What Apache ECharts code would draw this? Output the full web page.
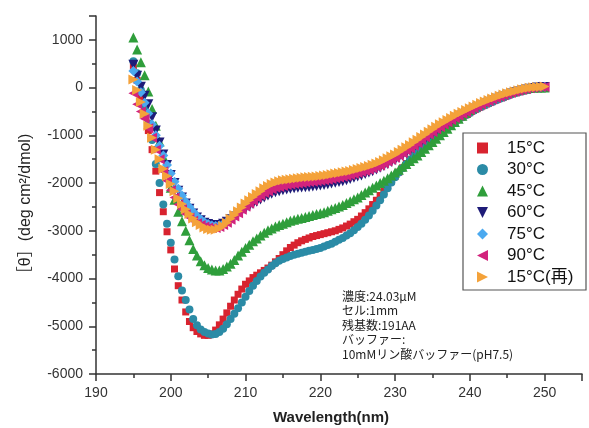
<!DOCTYPE html>
<html>
<head>
<meta charset="utf-8">
<script src="https://cdn.jsdelivr.net/npm/echarts@6/dist/echarts.min.js"></script>
<style>
  html, body { margin: 0; padding: 0; background: #fff; }
  #main { width: 589px; height: 428px; }
</style>
</head>
<body>
<div id="main"></div>
<script>
// 測定波長 195〜250nm (0.5nm刻み)
var wavelength = [];
for (var w = 195; w <= 250; w += 0.5) wavelength.push(w);

var seriesNames = ['15°C', '30°C', '45°C', '60°C', '75°C', '90°C', '15°C(再)'];

// [θ] の値 (deg cm2/dmol)
var t15 = [450, 150, -200, -550, -900, -1300, -1750, -2200, -2600, -3020,
  -3400, -3800, -4150, -4450, -4700, -4900, -5030, -5110, -5160, -5190,
  -5190, -5160, -5080, -4970, -4850, -4720, -4580, -4450, -4330, -4220,
  -4120, -4050, -3980, -3930, -3880, -3830, -3780, -3720, -3650, -3580,
  -3500, -3420, -3350, -3300, -3250, -3210, -3180, -3150, -3120, -3100,
  -3080, -3060, -3040, -3020, -3000, -2970, -2940, -2900, -2860, -2810,
  -2760, -2690, -2620, -2540, -2450, -2360, -2260, -2160, -2060, -1960,
  -1860, -1770, -1680, -1590, -1500, -1420, -1340, -1260, -1190, -1120,
  -1050, -980, -920, -860, -810, -760, -710, -660, -615, -570,
  -525, -480, -440, -400, -365, -330, -295, -260, -230, -200,
  -170, -140, -115, -90, -70, -50, -35, -20, -10, 0,
  5];
var t30 = [550, 300, -50, -400, -750, -1100, -1600, -2000, -2450, -2850,
  -3250, -3600, -3950, -4250, -4450, -4650, -4850, -4980, -5070, -5120,
  -5150, -5170, -5160, -5120, -5050, -4960, -4850, -4740, -4620, -4500,
  -4380, -4260, -4150, -4050, -3960, -3880, -3810, -3740, -3680, -3630,
  -3590, -3560, -3530, -3500, -3480, -3460, -3440, -3420, -3400, -3380,
  -3360, -3330, -3300, -3270, -3230, -3190, -3150, -3100, -3050, -2990,
  -2920, -2850, -2770, -2680, -2580, -2470, -2360, -2240, -2110, -1990,
  -1880, -1780, -1690, -1600, -1510, -1430, -1350, -1280, -1210, -1140,
  -1070, -1000, -940, -880, -825, -770, -720, -670, -620, -575,
  -530, -485, -445, -405, -370, -335, -300, -265, -235, -205,
  -175, -145, -120, -95, -75, -55, -40, -25, -10, 0,
  5];
var t45 = [1050, 800, 530, 260, -80, -450, -800, -1130, -1450, -1780,
  -2100, -2350, -2600, -2800, -3000, -3200, -3380, -3520, -3640, -3720,
  -3780, -3810, -3830, -3830, -3800, -3750, -3690, -3610, -3520, -3440,
  -3360, -3290, -3220, -3160, -3100, -3040, -2990, -2950, -2910, -2880,
  -2850, -2820, -2790, -2770, -2750, -2730, -2710, -2690, -2670, -2650,
  -2630, -2610, -2580, -2550, -2520, -2490, -2460, -2420, -2380, -2340,
  -2300, -2250, -2200, -2150, -2100, -2050, -2000, -1950, -1900, -1840,
  -1780, -1720, -1660, -1600, -1540, -1480, -1420, -1350, -1280, -1210,
  -1140, -1070, -1000, -930, -860, -790, -720, -650, -590, -530,
  -470, -420, -375, -335, -295, -260, -225, -195, -165, -140,
  -115, -90, -70, -50, -35, -20, -10, 0, 0, 0,
  0];
var t60 = [480, 250, 20, -170, -350, -620, -900, -1150, -1400, -1620,
  -1830, -2000, -2160, -2300, -2430, -2540, -2640, -2720, -2780, -2830,
  -2860, -2880, -2890, -2880, -2850, -2810, -2760, -2700, -2640, -2590,
  -2540, -2490, -2440, -2390, -2345, -2300, -2260, -2225, -2195, -2170,
  -2150, -2135, -2120, -2110, -2100, -2095, -2090, -2080, -2070, -2060,
  -2050, -2040, -2025, -2010, -1995, -1980, -1960, -1940, -1915, -1890,
  -1865, -1840, -1810, -1780, -1750, -1715, -1680, -1640, -1600, -1560,
  -1520, -1470, -1420, -1370, -1320, -1265, -1210, -1150, -1090, -1030,
  -975, -920, -865, -815, -765, -715, -665, -620, -575, -530,
  -490, -450, -410, -370, -335, -300, -265, -235, -205, -175,
  -150, -125, -100, -80, -60, -40, -25, -10, 0, 10,
  15];
var t75 = [350, 130, -100, -320, -540, -770, -1000, -1220, -1420, -1620,
  -1800, -1970, -2120, -2260, -2390, -2500, -2600, -2690, -2760, -2820,
  -2860, -2890, -2900, -2890, -2860, -2810, -2740, -2670, -2600, -2530,
  -2460, -2400, -2340, -2280, -2230, -2180, -2140, -2100, -2070, -2050,
  -2030, -2010, -2000, -1990, -1980, -1970, -1960, -1950, -1940, -1930,
  -1920, -1910, -1900, -1885, -1870, -1855, -1840, -1820, -1800, -1780,
  -1760, -1740, -1715, -1690, -1660, -1630, -1600, -1560, -1520, -1480,
  -1440, -1390, -1340, -1290, -1240, -1190, -1130, -1070, -1010, -955,
  -900, -850, -800, -750, -700, -655, -610, -570, -530, -490,
  -450, -410, -375, -340, -305, -270, -240, -210, -180, -150,
  -125, -100, -80, -60, -40, -25, -10, 0, 10, 15,
  20];
var t90 = [-120, -350, -500, -650, -850, -1050, -1300, -1500, -1750, -1950,
  -2150, -2300, -2450, -2550, -2650, -2720, -2790, -2840, -2880, -2910,
  -2930, -2940, -2940, -2920, -2880, -2830, -2770, -2700, -2630, -2560,
  -2490, -2430, -2370, -2310, -2260, -2210, -2170, -2130, -2100, -2080,
  -2060, -2040, -2030, -2020, -2010, -2000, -1990, -1980, -1970, -1960,
  -1950, -1940, -1930, -1915, -1900, -1885, -1870, -1850, -1830, -1810,
  -1790, -1770, -1745, -1720, -1690, -1660, -1630, -1590, -1550, -1510,
  -1470, -1420, -1370, -1320, -1270, -1220, -1160, -1100, -1040, -985,
  -930, -875, -825, -775, -725, -680, -635, -590, -550, -510,
  -470, -430, -390, -355, -320, -285, -250, -220, -190, -160,
  -135, -110, -85, -65, -45, -30, -15, -5, 5, 10,
  15];
var t15re = [170, -50, -300, -550, -800, -1050, -1300, -1500, -1700, -1850,
  -2020, -2170, -2320, -2440, -2550, -2650, -2740, -2820, -2880, -2930,
  -2960, -2980, -2980, -2950, -2900, -2830, -2750, -2670, -2590, -2510,
  -2430, -2360, -2290, -2230, -2170, -2110, -2060, -2020, -1990, -1960,
  -1940, -1930, -1920, -1910, -1900, -1890, -1880, -1875, -1870, -1860,
  -1850, -1840, -1830, -1815, -1800, -1790, -1775, -1760, -1745, -1725,
  -1705, -1685, -1665, -1640, -1615, -1590, -1560, -1520, -1480, -1440,
  -1400, -1350, -1300, -1250, -1200, -1145, -1090, -1035, -980, -925,
  -870, -820, -770, -725, -680, -635, -590, -550, -510, -470,
  -430, -395, -360, -325, -290, -260, -230, -200, -170, -145,
  -120, -95, -75, -55, -35, -20, -5, 5, 15, 20,
  25];

// 測定条件
var noteLines = ['濃度:24.03μM', 'セル:1mm', '残基数:191AA', 'バッファー:', '10mMリン酸バッファー(pH7.5)'];

var seriesValues = [t15, t30, t45, t60, t75, t90, t15re];
// legendIcon: 凡例では回転が効かないので向き付きの三角はpathで描く
var seriesStyle = [
  { symbol: 'rect', size: 7, rotate: 0, color: '#d8232f', legendIcon: 'rect' },
  { symbol: 'circle', size: 8, rotate: 0, color: '#2b8ba6', legendIcon: 'circle' },
  { symbol: 'triangle', size: 10, rotate: 0, color: '#2f9e3b', legendIcon: 'triangle' },
  { symbol: 'triangle', size: 10, rotate: 180, color: '#1e1b78', legendIcon: 'path://M0,0L10,0L5,10Z' },
  { symbol: 'diamond', size: 10, rotate: 0, color: '#4ba9ef', legendIcon: 'diamond' },
  { symbol: 'triangle', size: 10, rotate: 90, color: '#d2237d', legendIcon: 'path://M10,0L10,10L0,5Z' },
  { symbol: 'triangle', size: 10, rotate: -90, color: '#f4a23a', legendIcon: 'path://M0,0L10,5L0,10Z' }
];

function toPoints(values) {
  return values.map(function (v, i) {
    return [wavelength[i], v];
  });
}

var series = seriesValues.map(function (values, k) {
  var s = seriesStyle[k];
  return {
    name: seriesNames[k],
    type: 'scatter',
    symbol: s.symbol,
    symbolSize: s.size,
    symbolRotate: s.rotate,
    itemStyle: { color: s.color, opacity: 1 },
    emphasis: { disabled: true },
    data: toPoints(values)
  };
});

var legendData = seriesNames.map(function (name, k) {
  return { name: name, icon: seriesStyle[k].legendIcon };
});

var axisColor = '#333';
var labelFont = 'Liberation Sans, Arial, sans-serif';

var option = {
  animation: false,
  backgroundColor: '#fff',
  grid: { left: 96, right: 7, top: 16, bottom: 54 },
  legend: {
    orient: 'vertical',
    left: 477,
    top: 138,
    padding: 0,
    itemWidth: 11,
    itemHeight: 11,
    itemGap: 1.5,
    selectedMode: false,
    formatter: function (name) {
      return '{a|' + name + '}';
    },
    textStyle: {
      fontSize: 17,
      lineHeight: 20,
      color: '#111',
      fontFamily: 'Liberation Sans, "Noto Sans CJK JP", sans-serif',
      rich: {
        a: {
          fontSize: 17,
          lineHeight: 20,
          padding: [0, 0, 0, 14]
        }
      }
    },
    data: legendData
  },
  xAxis: {
    type: 'value',
    min: 190,
    max: 255,
    interval: 10,
    splitLine: { show: false },
    axisLine: { onZero: false, lineStyle: { color: axisColor, width: 1.5 } },
    axisTick: { length: 7, lineStyle: { color: axisColor, width: 1.5 } },
    minorTick: { show: true, splitNumber: 2, length: 4, lineStyle: { color: axisColor, width: 1.5 } },
    axisLabel: { showMaxLabel: false, margin: 12, fontSize: 14, color: '#333', fontFamily: labelFont }
  },
  yAxis: {
    type: 'value',
    min: -6000,
    max: 1500,
    interval: 1000,
    splitLine: { show: false },
    axisLine: { show: true, onZero: false, lineStyle: { color: axisColor, width: 1.5 } },
    axisTick: { show: true, length: 7, lineStyle: { color: axisColor, width: 1.5 } },
    minorTick: { show: true, splitNumber: 2, length: 4, lineStyle: { color: axisColor, width: 1.5 } },
    axisLabel: {
      showMaxLabel: false,
      margin: 13,
      fontSize: 14,
      color: '#333',
      fontFamily: labelFont,
      formatter: function (v) { return String(v); }
    }
  },
  graphic: [
    {
      // 凡例の枠
      type: 'rect',
      z: 0,
      shape: { x: 463, y: 133, width: 123, height: 157 },
      style: { fill: 'none', stroke: '#555', lineWidth: 1.2 }
    },
    {
      type: 'text',
      left: 342,
      top: 289,
      style: {
        text: noteLines.join('\n'),
        font: '12px "Noto Sans CJK JP", sans-serif',
        lineHeight: 14.5,
        fill: '#222'
      }
    },
    {
      // x軸名
      type: 'text',
      x: 331,
      y: 418,
      style: {
        text: 'Wavelength(nm)',
        font: 'bold 15px Liberation Sans, Arial, sans-serif',
        fill: '#222',
        align: 'center',
        verticalAlign: 'middle'
      }
    },
    {
      // y軸名
      type: 'text',
      x: 26,
      y: 208,
      rotation: Math.PI / 2,
      style: {
        text: '［θ］(deg cm²/dmol)',
        font: '16px Liberation Sans, "Noto Sans CJK JP", sans-serif',
        fill: '#222',
        align: 'center',
        verticalAlign: 'middle'
      }
    }
  ],
  series: series
};

var chart = echarts.init(document.getElementById('main'));
chart.setOption(option);
</script>
</body>
</html>
